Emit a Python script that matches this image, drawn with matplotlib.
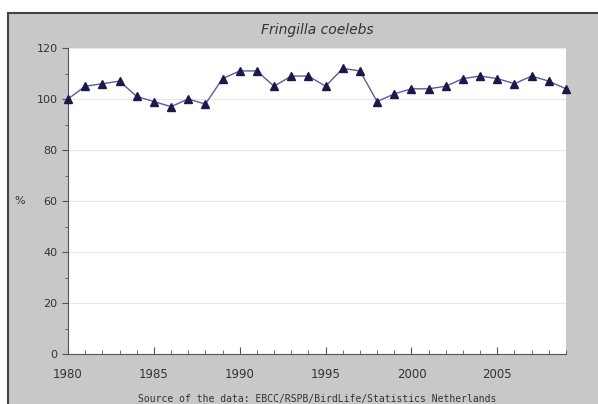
import matplotlib.pyplot as plt
from matplotlib.patches import Rectangle
from matplotlib.lines import Line2D
from matplotlib.ticker import MultipleLocator

# data
years = list(range(1980, 2010))
index = [100, 105, 106, 107, 101, 99, 97, 100, 98, 108,
         111, 111, 105, 109, 109, 105, 112, 111, 99, 102,
         104, 104, 105, 108, 109, 108, 106, 109, 107, 104]
y_ticks = [0, 20, 40, 60, 80, 100, 120]
x_ticks = [1980, 1985, 1990, 1995, 2000, 2005]

W, H = 598, 404
fig = plt.figure(figsize=(W / 100, H / 100), dpi=100)
fig.patch.set_facecolor('white')

# grey panel with dark border at left/top
fig.patches.append(Rectangle((8 / W, 0), 1, (H - 13) / H, transform=fig.transFigure,
                             facecolor='#c8c8c8', edgecolor='none', zorder=-2))
fig.lines.append(Line2D([8 / W, 8 / W], [0, (H - 13) / H], transform=fig.transFigure,
                        color='#444444', lw=1.5, zorder=-1))
fig.lines.append(Line2D([8 / W, 1], [(H - 13) / H, (H - 13) / H], transform=fig.transFigure,
                        color='#444444', lw=1.5, zorder=-1))

ax = fig.add_axes([68 / W, (H - 354) / H, (566 - 68) / W, (354 - 48) / H])
ax.set_zorder(1)
ax.set_facecolor('white')
ax.plot(years, index, color='#5a5aa8', lw=1, marker='^', ms=5.5,
        markerfacecolor='#1a1a4a', markeredgecolor='#1a1a4a', clip_on=False, zorder=3)

ax.set_xlim(1980, 2009)
ax.set_ylim(0, 120)
ax.set_xticks(x_ticks)
ax.xaxis.set_minor_locator(MultipleLocator(1))
ax.set_yticks(y_ticks)
ax.yaxis.set_minor_locator(MultipleLocator(10))
ax.grid(axis='y', color='#e8e8e8', lw=0.8)
ax.set_axisbelow(True)

for s in ['top', 'right']:
    ax.spines[s].set_visible(False)
for s in ['left', 'bottom']:
    ax.spines[s].set_color('#555555')
ax.tick_params(axis='x', direction='in', length=5, colors='#555555', labelcolor='#333333',
               labelsize=8.5, pad=10)
ax.tick_params(axis='x', which='minor', direction='in', length=3, colors='#555555')
ax.tick_params(axis='y', direction='out', length=4, colors='#555555', labelcolor='#333333',
               labelsize=8)
ax.tick_params(axis='y', which='minor', direction='out', length=2, colors='#555555')

ax.set_ylabel('%', rotation=0, fontsize=8, color='#333333', labelpad=12, va='center')

fig.text((68 + 566) / 2 / W, (H - 30) / H, 'Fringilla coelebs', ha='center', va='center',
         fontsize=10, style='italic', color='#333333')
fig.text((68 + 566) / 2 / W, (H - 399) / H,
         'Source of the data: EBCC/RSPB/BirdLife/Statistics Netherlands',
         ha='center', va='center', fontsize=7, family='DejaVu Sans Mono', color='#333333')

fig.savefig('out.png', dpi=100)
